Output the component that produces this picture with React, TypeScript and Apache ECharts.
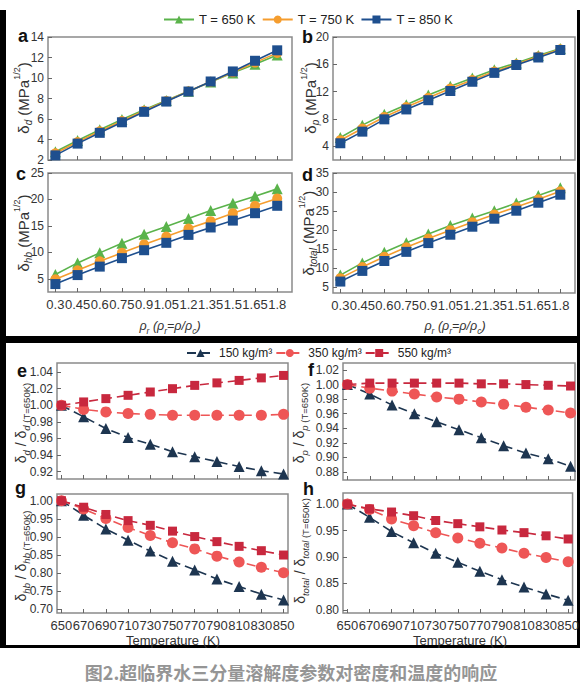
import React, { useEffect, useRef } from 'react';
import * as echarts from 'echarts';

const FONT = '"Liberation Sans", Arial, Helvetica, sans-serif';

// ---------- data ----------
const rhoR = [0.3, 0.45, 0.6, 0.75, 0.9, 1.05, 1.2, 1.35, 1.5, 1.65, 1.8];
const temps = [650, 670, 690, 710, 730, 750, 770, 790, 810, 830, 850];

const topNames = ['T = 650 K', 'T = 750 K', 'T = 850 K'];
const botNames = ['150 kg/m³', '350 kg/m³', '550 kg/m³'];

// (a) delta_d
const dD650 = [2.8, 3.9, 4.95, 5.95, 6.9, 7.8, 8.7, 9.6, 10.5, 11.35, 12.25];
const dD750 = [2.65, 3.75, 4.8, 5.8, 6.8, 7.75, 8.7, 9.63, 10.55, 11.5, 12.45];
const dD850 = [2.45, 3.6, 4.65, 5.68, 6.7, 7.7, 8.68, 9.66, 10.64, 11.68, 12.7];
// (b) delta_p
const dP650 = [5.3, 7.1, 8.7, 10.1, 11.5, 12.8, 14.0, 15.2, 16.2, 17.3, 18.3];
const dP750 = [4.9, 6.6, 8.3, 9.75, 11.1, 12.45, 13.7, 14.95, 16.0, 17.15, 18.2];
const dP850 = [4.45, 6.15, 7.95, 9.4, 10.75, 12.1, 13.45, 14.75, 15.9, 17.0, 18.1];
// (c) delta_hb
const dH650 = [5.8, 8.0, 9.9, 11.7, 13.4, 14.9, 16.4, 17.9, 19.3, 20.6, 22.0];
const dH750 = [4.9, 6.6, 8.3, 9.9, 11.5, 13.0, 14.5, 15.9, 17.4, 18.8, 20.2];
const dH850 = [4.0, 5.7, 7.3, 8.9, 10.4, 11.8, 13.3, 14.7, 16.0, 17.4, 18.8];
// (d) delta_total
const dT650 = [8.2, 11.4, 14.2, 16.7, 19.0, 21.2, 23.2, 25.1, 27.1, 29.1, 31.1];
const dT750 = [7.4, 10.3, 13.0, 15.5, 17.8, 20.0, 22.1, 24.1, 26.1, 28.1, 30.2];
const dT850 = [6.5, 9.3, 11.9, 14.3, 16.6, 18.8, 20.9, 23.0, 25.1, 27.2, 29.3];

// (e) ratio d
const e150 = [1.0, 0.986, 0.972, 0.961, 0.953, 0.944, 0.938, 0.932, 0.926, 0.921, 0.917];
const e350 = [1.0, 0.995, 0.992, 0.990, 0.989, 0.988, 0.988, 0.988, 0.988, 0.988, 0.989];
const e550 = [1.0, 1.004, 1.008, 1.012, 1.016, 1.020, 1.024, 1.027, 1.030, 1.033, 1.036];
// (f) ratio p
const f150 = [1.0, 0.987, 0.972, 0.960, 0.949, 0.938, 0.927, 0.916, 0.906, 0.898, 0.888];
const f350 = [1.0, 0.995, 0.991, 0.987, 0.983, 0.980, 0.976, 0.973, 0.969, 0.965, 0.961];
const f550 = [1.0, 1.002, 1.002, 1.002, 1.002, 1.002, 1.001, 1.001, 1.000, 0.999, 0.998];
// (g) ratio hb
const g150 = [1.0, 0.960, 0.922, 0.891, 0.861, 0.833, 0.809, 0.784, 0.763, 0.742, 0.726];
const g350 = [1.0, 0.977, 0.951, 0.926, 0.904, 0.884, 0.867, 0.847, 0.831, 0.816, 0.801];
const g550 = [1.0, 0.982, 0.962, 0.945, 0.932, 0.916, 0.901, 0.887, 0.874, 0.862, 0.850];
// (h) ratio total
const h150 = [1.0, 0.975, 0.948, 0.927, 0.907, 0.890, 0.873, 0.857, 0.843, 0.830, 0.818];
const h350 = [1.0, 0.990, 0.972, 0.959, 0.946, 0.936, 0.926, 0.917, 0.907, 0.899, 0.891];
const h550 = [1.0, 0.991, 0.985, 0.978, 0.969, 0.963, 0.957, 0.951, 0.946, 0.940, 0.934];

// tick labels
const aTicks = [2, 4, 6, 8, 10, 12, 14];
const bTicks = [4, 8, 12, 16, 20];
const cTicks = [5, 10, 15, 20, 25];
const dTicks = [5, 10, 15, 20, 25, 30, 35];
const eTicks = [0.92, 0.94, 0.96, 0.98, 1.0, 1.02, 1.04];
const fTicks = [0.88, 0.9, 0.92, 0.94, 0.96, 0.98, 1.0, 1.02];
const gTicks = [0.7, 0.75, 0.8, 0.85, 0.9, 0.95, 1.0];
const hTicks = [0.8, 0.85, 0.9, 0.95, 1.0];

// ---------- styles ----------
const topColors = ['#5ab34b', '#f59d2e', '#1e4f8e'];
const topSymbols = ['triangle', 'circle', 'rect'];
const topSizes = [11, 10, 10];
const botColors = ['#1d3550', '#ee5656', '#c8283e'];
const botSymbols = ['triangle', 'circle', 'rect'];
const botSizes = [11, 11, 9];

const pairs = (xs: number[], ys: number[]) => xs.map((x, i) => [x, ys[i]]);

type Panel = {
  grid: { left: number; top: number; width: number; height: number };
  xr: [number, number];
  yr: [number, number];
  xTicks: number[];
  yTicks: number[];
  showX: boolean;
  bottom: boolean;
  data: number[][];
};

const panels: Panel[] = [
  { grid: { left: 48, top: 37, width: 244, height: 123 }, xr: [0.25, 1.9], yr: [2, 14], xTicks: rhoR, yTicks: aTicks, showX: false, bottom: false, data: [dD650, dD750, dD850] },
  { grid: { left: 333, top: 37, width: 242, height: 123 }, xr: [0.25, 1.9], yr: [2, 20], xTicks: rhoR, yTicks: bTicks, showX: false, bottom: false, data: [dP650, dP750, dP850] },
  { grid: { left: 48, top: 173, width: 244, height: 119 }, xr: [0.25, 1.9], yr: [2.5, 25], xTicks: rhoR, yTicks: cTicks, showX: true, bottom: false, data: [dH650, dH750, dH850] },
  { grid: { left: 333, top: 173, width: 242, height: 120 }, xr: [0.25, 1.9], yr: [3.5, 35], xTicks: rhoR, yTicks: dTicks, showX: true, bottom: false, data: [dT650, dT750, dT850] },
  { grid: { left: 57, top: 363, width: 231, height: 116 }, xr: [646, 854], yr: [0.911, 1.051], xTicks: temps, yTicks: eTicks, showX: false, bottom: true, data: [e150, e350, e550] },
  { grid: { left: 343, top: 363, width: 232, height: 117 }, xr: [646, 854], yr: [0.869, 1.0296], xTicks: temps, yTicks: fTicks, showX: false, bottom: true, data: [f150, f350, f550] },
  { grid: { left: 57, top: 494, width: 231, height: 119 }, xr: [646, 854], yr: [0.69, 1.0185], xTicks: temps, yTicks: gTicks, showX: true, bottom: true, data: [g150, g350, g550] },
  { grid: { left: 343, top: 493, width: 232, height: 120 }, xr: [646, 854], yr: [0.794, 1.021], xTicks: temps, yTicks: hTicks, showX: true, bottom: true, data: [h150, h350, h550] },
];

const RICH = (main: number, sub: number, italicMain: boolean) => ({
  i: { fontSize: main, fontStyle: 'italic', fontFamily: FONT, fill: '#333', lineHeight: main + 6 },
  n: { fontSize: main, fontFamily: FONT, fill: '#333', lineHeight: main + 6 },
  sub: { fontSize: sub, fontStyle: 'italic', fontFamily: FONT, fill: '#333', verticalAlign: 'bottom', lineHeight: main + 6 },
  subn: { fontSize: sub, fontStyle: italicMain ? 'italic' : 'normal', fontFamily: FONT, fill: '#333', verticalAlign: 'bottom', lineHeight: main + 6 },
  sup: { fontSize: sub - 1, fontFamily: FONT, fill: '#333', verticalAlign: 'top', lineHeight: main + 6 },
});

function label(text: string, x: number, y: number, main: number, sub: number, rotate: boolean, italic = false) {
  return {
    type: 'text',
    x,
    y,
    rotation: rotate ? Math.PI / 2 : 0,
    silent: true,
    style: {
      text,
      fill: '#333',
      fontSize: main,
      fontFamily: FONT,
      fontStyle: italic ? 'italic' : 'normal',
      lineHeight: main + 6,
      align: 'center',
      verticalAlign: 'middle',
      rich: RICH(main, sub, italic),
    },
  };
}

function letter(t: string, x: number, y: number) {
  return {
    type: 'text',
    x,
    y,
    silent: true,
    style: { text: t, fill: '#111', fontSize: 18, fontWeight: 'bold', fontFamily: FONT, align: 'left', verticalAlign: 'middle' },
  };
}

function bar(x: number, y: number, w: number, h: number) {
  return { type: 'rect', silent: true, shape: { x, y, width: w, height: h }, style: { fill: '#000' } };
}

export default function App() {
  const ref = useRef<HTMLDivElement>(null);
  useEffect(() => {
    if (!ref.current) return;
    const chart = echarts.init(ref.current, undefined, { renderer: 'svg' });

    const grids: any[] = [];
    const xAxes: any[] = [];
    const yAxes: any[] = [];
    const series: any[] = [];

    panels.forEach((p, gi) => {
      grids.push({ ...p.grid, show: true, borderColor: '#8a8a8a', borderWidth: 1.5, backgroundColor: 'transparent' });
      xAxes.push({
        type: 'value',
        gridIndex: gi,
        min: p.xr[0],
        max: p.xr[1],
        axisLine: { show: false },
        splitLine: { show: false },
        axisTick: { show: true, inside: true, length: 4, customValues: p.xTicks, lineStyle: { color: '#666', width: 1 } },
        axisLabel: {
          show: p.showX,
          customValues: p.xTicks,
          fontSize: 13,
          color: '#333',
          margin: 6,
          fontFamily: FONT,
          formatter: (v: number) => String(Number(v.toFixed(2))),
        },
      });
      yAxes.push({
        type: 'value',
        gridIndex: gi,
        min: p.yr[0],
        max: p.yr[1],
        axisLine: { show: false },
        splitLine: { show: false },
        axisTick: { show: true, inside: true, length: 4, customValues: p.yTicks, lineStyle: { color: '#666', width: 1 } },
        axisLabel: {
          customValues: p.yTicks,
          fontSize: 12,
          color: '#333',
          margin: 4,
          fontFamily: FONT,
          formatter: (v: number) => (p.bottom ? v.toFixed(2) : String(Math.round(v))),
        },
      });
      p.data.forEach((ys, si) => {
        const xs = p.bottom ? temps : rhoR;
        const color = p.bottom ? botColors[si] : topColors[si];
        series.push({
          type: 'line',
          name: p.bottom ? botNames[si] : topNames[si],
          xAxisIndex: gi,
          yAxisIndex: gi,
          data: pairs(xs, ys),
          symbol: p.bottom ? botSymbols[si] : topSymbols[si],
          symbolSize: p.bottom ? botSizes[si] : topSizes[si],
          showSymbol: true,
          clip: false,
          itemStyle: { color },
          lineStyle: { color, width: 1.6, type: p.bottom ? [9, 5] : 'solid' },
          z: 2 + si,
        });
      });
    });

    const graphic: any[] = [
      // black frames
      bar(0, 10, 6, 333),
      bar(577, 10, 3, 333),
      bar(0, 336, 580, 7),
      bar(0, 343, 6, 305),
      bar(577, 343, 3, 305),
      bar(0, 645, 580, 3),
      // panel letters
      letter('a', 18, 36),
      letter('b', 302, 37),
      letter('c', 16, 174),
      letter('d', 302, 175),
      letter('e', 17, 371),
      letter('f', 308, 370),
      letter('g', 15, 488),
      letter('h', 303, 489),
      // y-axis titles
      label('δ{sub|d} (MPa{sup|1/2})', 23, 98, 15, 10, true),
      label('δ{sub|p} (MPa{sup|1/2})', 310, 98, 15, 10, true),
      label('δ{sub|hb} (MPa{sup|1/2})', 23, 233, 15, 10, true),
      label('δ{sub|total} (MPa{sup|1/2})', 308, 233, 15, 10, true),
      label('δ{sub|d} / δ{sub|d}{subn| (T=650K)}', 21, 423, 14, 9.5, true),
      label('δ{sub|p} / δ{sub|p}{subn| (T=650K)}', 299, 423, 14, 9.5, true),
      label('δ{sub|hb} / δ{sub|hb}{subn| (T=650K)}', 21, 556, 14, 9.5, true),
      label('δ{sub|total} / δ{sub|total}{subn| (T=650K)}', 300, 551, 14, 9.5, true),
      // x-axis titles
      label('{i|ρ}{sub|r} {i|(ρ}{sub|r}{i|=ρ/ρ}{sub|c}{i|)}', 170, 326, 12.5, 8.5, false, true),
      label('{i|ρ}{sub|r} {i|(ρ}{sub|r}{i|=ρ/ρ}{sub|c}{i|)}', 455, 326, 12.5, 8.5, false, true),
      label('Temperature (K)', 173, 640, 13, 9, false),
      label('Temperature (K)', 460, 640, 13, 9, false),
      // caption
      {
        type: 'text',
        x: 291,
        y: 672,
        silent: true,
        style: {
          text: '图2.超临界水三分量溶解度参数对密度和温度的响应',
          fill: '#959595',
          fontSize: 18,
          fontWeight: 'bold',
          fontFamily: '"Noto Sans CJK SC", sans-serif',
          align: 'center',
          verticalAlign: 'middle',
        },
      },
    ];

    chart.setOption({
      animation: false,
      backgroundColor: '#ffffff',
      textStyle: { fontFamily: FONT },
      legend: [
        {
          data: topNames,
          left: 158,
          top: 8,
          itemWidth: 30,
          itemHeight: 10,
          itemGap: 6,
          textStyle: { fontSize: 13, color: '#222', fontFamily: FONT },
        },
        {
          data: botNames,
          left: 181,
          top: 342,
          itemWidth: 27,
          itemHeight: 10,
          itemGap: 3,
          textStyle: { fontSize: 12, color: '#222', fontFamily: FONT },
        },
      ],
      grid: grids,
      xAxis: xAxes,
      yAxis: yAxes,
      series,
      graphic,
    });
    return () => chart.dispose();
  }, []);
  return <div ref={ref} style={{ position: 'absolute', left: 0, top: 0, width: 582, height: 690 }} />;
}
